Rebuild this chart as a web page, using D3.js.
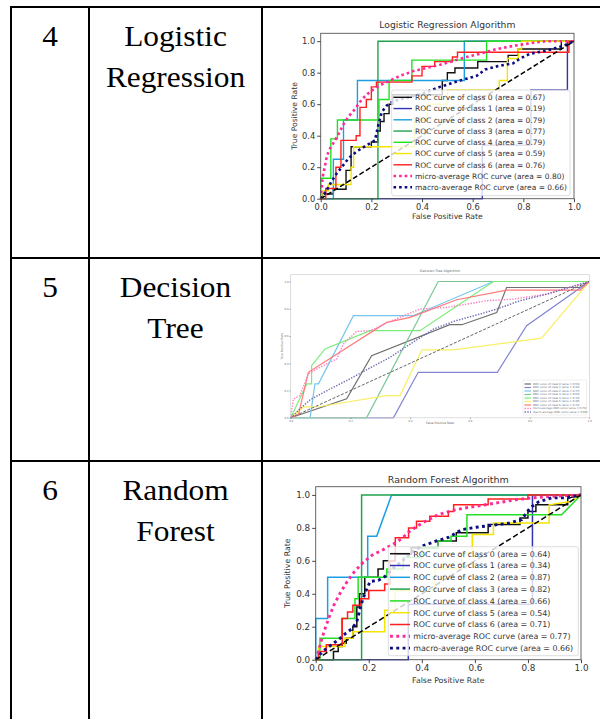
<!DOCTYPE html>
<html lang="en">
<head>
<meta charset="utf-8" />
<title>ROC curves by algorithm</title>
<script src="https://cdn.jsdelivr.net/npm/d3@7"></script>
<style>
  body { margin: 0; background: #fff; }
  svg { display: block; }
</style>
</head>
<body>
<svg id="page" width="600" height="719"></svg>
<script>
// ---- table text ----
const rowNumbers = ["4", "5", "6"];
const rowNames = [["Logistic", "Regression"], ["Decision", "Tree"], ["Random", "Forest"]];

// ---- chart text ----
const chartTitles = ["Logistic Regression Algorithm", "Decision Tree Algorithm", "Random Forest Algorithm"];
const legendLabels = [
  "ROC curve of class 0", "ROC curve of class 1", "ROC curve of class 2",
  "ROC curve of class 3", "ROC curve of class 4", "ROC curve of class 5",
  "ROC curve of class 6", "micro-average ROC curve", "macro-average ROC curve"
];
const xTicks = [0, 0.2, 0.4, 0.6, 0.8, 1.0];
const yTicks = [0, 0.2, 0.4, 0.6, 0.8, 1.0];
const curveColors = ["#111111", "#3232b4", "#1a9fe3", "#22a24e", "#22e022", "#f3e500", "#ff1f1f", "#ff2a98", "#0c0c80"];

// ---- areas ----
const lrAreas = [0.67, 0.19, 0.79, 0.77, 0.79, 0.59, 0.76, 0.80, 0.66];
const dtAreas = [0.59, 0.33, 0.77, 0.63, 0.74, 0.40, 0.73, 0.73, 0.60];
const rfAreas = [0.64, 0.34, 0.87, 0.82, 0.66, 0.54, 0.71, 0.77, 0.66];

// ---- logistic regression curves [fpr, tpr] ----
const lrClass0 = [[0,0],[0.01,0],[0.01,0.03],[0.05,0.03],[0.05,0.06],[0.1,0.06],[0.1,0.18],[0.12,0.18],[0.12,0.33],[0.2,0.33],[0.2,0.36],[0.225,0.36],[0.225,0.43],[0.235,0.43],[0.235,0.49],[0.25,0.49],[0.25,0.54],[0.27,0.54],[0.27,0.6],[0.285,0.6],[0.285,0.66],[0.48,0.66],[0.48,0.75],[0.5,0.75],[0.5,0.8],[0.53,0.8],[0.53,0.83],[0.62,0.83],[0.62,0.87],[0.74,0.87],[0.74,0.91],[0.78,0.91],[0.78,0.95],[0.95,0.95],[0.95,1],[1,1]];
const lrClass1 = [[0,0],[0.638,0],[0.638,0.34],[0.83,0.34],[0.83,0.69],[0.974,0.69],[0.974,1],[1,1]];
const lrClass2 = [[0,0],[0.05,0],[0.05,0.25],[0.09,0.25],[0.09,0.5],[0.145,0.5],[0.145,0.75],[0.567,0.75],[0.567,1],[1,1]];
const lrClass3 = [[0,0],[0.226,0],[0.226,1],[1,1]];
const lrClass4 = [[0,0],[0,0.13],[0.04,0.13],[0.04,0.38],[0.066,0.38],[0.066,0.5],[0.23,0.5],[0.23,0.63],[0.27,0.63],[0.27,0.75],[0.36,0.75],[0.36,0.88],[0.655,0.88],[0.655,1],[1,1]];
const lrClass5 = [[0,0],[0.01,0],[0.01,0.05],[0.03,0.05],[0.03,0.09],[0.12,0.09],[0.12,0.2],[0.13,0.2],[0.13,0.33],[0.37,0.33],[0.37,0.5],[0.42,0.5],[0.42,0.6],[0.5,0.6],[0.5,0.69],[0.705,0.69],[0.705,0.75],[0.737,0.75],[0.737,0.89],[0.78,0.89],[0.78,0.95],[0.793,0.95],[0.793,1],[1,1]];
const lrClass6 = [[0,0],[0.02,0],[0.02,0.065],[0.06,0.065],[0.06,0.2],[0.08,0.2],[0.08,0.37],[0.14,0.37],[0.14,0.4],[0.155,0.4],[0.155,0.58],[0.18,0.58],[0.18,0.63],[0.2,0.63],[0.2,0.71],[0.22,0.71],[0.22,0.74],[0.36,0.74],[0.36,0.78],[0.4,0.78],[0.4,0.84],[0.45,0.84],[0.45,0.87],[0.52,0.87],[0.52,0.9],[0.54,0.9],[0.54,0.93],[0.98,0.93],[0.98,1],[1,1]];
const lrMicro = [[0,0],[0.008,0.14],[0.017,0.21],[0.024,0.27],[0.037,0.32],[0.053,0.36],[0.07,0.41],[0.089,0.47],[0.109,0.52],[0.136,0.57],[0.162,0.63],[0.195,0.68],[0.234,0.72],[0.274,0.75],[0.313,0.78],[0.366,0.81],[0.418,0.83],[0.471,0.85],[0.524,0.875],[0.576,0.9],[0.629,0.92],[0.695,0.95],[0.76,0.97],[0.84,0.99],[0.89,1],[1,1]];
const lrMacro = [[0,0],[0.01,0.02],[0.024,0.055],[0.043,0.11],[0.063,0.16],[0.083,0.2],[0.109,0.255],[0.142,0.3],[0.182,0.34],[0.214,0.37],[0.228,0.47],[0.241,0.55],[0.26,0.59],[0.287,0.62],[0.339,0.64],[0.405,0.67],[0.471,0.71],[0.55,0.75],[0.616,0.78],[0.649,0.82],[0.695,0.84],[0.76,0.86],[0.787,0.89],[0.826,0.92],[0.892,0.94],[0.958,0.97],[1,1]];

// ---- decision tree curves ----
const dtClass0 = [[0,0],[0.1875,0.139],[0.271,0.456],[0.533,0.683],[0.573,0.683],[0.69,0.773],[0.723,0.956],[0.969,0.956],[1,1]];
const dtClass1 = [[0,0],[0.344,0],[0.427,0.334],[0.692,0.334],[0.79,0.676],[1,1]];
const dtClass2 = [[0,0],[0.065,0],[0.081,0.249],[0.093,0.249],[0.21,0.749],[0.41,0.749],[0.679,1],[1,1]];
const dtClass3 = [[0,0],[0.254,0],[0.494,1],[1,1]];
const dtClass4 = [[0,0],[0.054,0.249],[0.07,0.249],[0.07,0.383],[0.115,0.505],[0.266,0.639],[0.433,0.639],[0.679,1],[1,1]];
const dtClass5 = [[0,0],[0.042,0.078],[0.098,0.083],[0.321,0.163],[0.366,0.163],[0.439,0.498],[0.545,0.498],[0.84,0.585],[1,1]];
const dtClass6 = [[0,0],[0.026,0.024],[0.059,0.334],[0.321,0.7],[0.4,0.737],[0.556,0.866],[0.723,0.937],[0.969,0.937],[1,1]];
const dtMicro = [[0,0],[0.009,0.139],[0.031,0.163],[0.059,0.322],[0.098,0.371],[0.154,0.432],[0.176,0.541],[0.221,0.634],[0.266,0.639],[0.333,0.707],[0.433,0.798],[0.522,0.81],[0.589,0.834],[0.656,0.859],[0.746,0.871],[0.857,0.907],[1,1]];
const dtMacro = [[0,0],[0.031,0.066],[0.065,0.132],[0.132,0.212],[0.1875,0.273],[0.266,0.366],[0.333,0.444],[0.4,0.541],[0.478,0.651],[0.545,0.707],[0.634,0.761],[0.69,0.798],[0.768,0.859],[0.857,0.907],[1,1]];

// ---- random forest curves ----
const rfClass0 = [[0,0],[0.067,0],[0.067,0.05],[0.085,0.05],[0.085,0.08],[0.1,0.08],[0.1,0.1],[0.115,0.1],[0.115,0.13],[0.14,0.13],[0.14,0.2],[0.155,0.2],[0.155,0.32],[0.165,0.32],[0.165,0.4],[0.185,0.4],[0.185,0.5],[0.235,0.5],[0.235,0.55],[0.255,0.55],[0.255,0.6],[0.3,0.6],[0.3,0.64],[0.36,0.64],[0.36,0.68],[0.46,0.68],[0.46,0.72],[0.53,0.72],[0.53,0.77],[0.65,0.77],[0.65,0.82],[0.77,0.82],[0.77,0.86],[0.8,0.86],[0.8,0.9],[0.83,0.9],[0.83,0.94],[0.95,0.94],[0.95,0.98],[1,1]];
const rfClass1 = [[0,0],[0.349,0],[0.349,0.337],[0.817,0.337],[0.817,1],[1,1]];
const rfClass2 = [[0,0],[0,0.25],[0.045,0.25],[0.045,0.5],[0.196,0.5],[0.196,0.75],[0.23,0.75],[0.286,1],[1,1]];
const rfClass3 = [[0,0],[0.173,0],[0.173,1],[1,1]];
const rfClass4 = [[0,0],[0.016,0],[0.016,0.13],[0.098,0.13],[0.098,0.25],[0.148,0.25],[0.148,0.37],[0.16,0.37],[0.16,0.5],[0.268,0.5],[0.268,0.55],[0.33,0.55],[0.33,0.62],[0.4,0.62],[0.4,0.68],[0.46,0.68],[0.46,0.72],[0.51,0.72],[0.51,0.75],[0.57,0.75],[0.57,0.88],[0.927,0.88],[1,1]];
const rfClass5 = [[0,0],[0.01,0],[0.01,0.08],[0.11,0.08],[0.11,0.13],[0.14,0.13],[0.14,0.17],[0.26,0.17],[0.26,0.3],[0.3,0.3],[0.3,0.42],[0.45,0.42],[0.45,0.55],[0.55,0.55],[0.55,0.65],[0.59,0.65],[0.59,0.76],[0.67,0.76],[0.67,0.83],[0.88,0.83],[0.88,0.94],[0.96,0.96],[1,1]];
const rfClass6 = [[0,0],[0.01,0],[0.01,0.05],[0.04,0.05],[0.04,0.09],[0.1,0.09],[0.1,0.25],[0.12,0.25],[0.12,0.29],[0.14,0.29],[0.14,0.33],[0.17,0.33],[0.17,0.37],[0.2,0.37],[0.2,0.42],[0.26,0.42],[0.26,0.46],[0.28,0.46],[0.28,0.6],[0.3,0.6],[0.3,0.74],[0.35,0.74],[0.35,0.8],[0.38,0.8],[0.38,0.84],[0.43,0.84],[0.43,0.87],[0.5,0.87],[0.5,0.9],[0.52,0.9],[0.52,0.94],[0.65,0.94],[0.65,0.975],[0.8,0.975],[0.8,1],[1,1]];
const rfMicro = [[0,0],[0.01,0.049],[0.023,0.126],[0.035,0.187],[0.05,0.256],[0.069,0.333],[0.092,0.404],[0.117,0.47],[0.146,0.535],[0.176,0.586],[0.211,0.633],[0.249,0.663],[0.289,0.698],[0.324,0.734],[0.349,0.773],[0.381,0.809],[0.418,0.844],[0.462,0.88],[0.513,0.905],[0.563,0.921],[0.626,0.937],[0.688,0.953],[0.751,0.97],[0.814,0.982],[0.889,0.992],[1,1]];
const rfMacro = [[0,0],[0.013,0.028],[0.029,0.053],[0.048,0.077],[0.07,0.103],[0.092,0.13],[0.113,0.16],[0.136,0.187],[0.155,0.231],[0.171,0.333],[0.186,0.404],[0.205,0.475],[0.236,0.481],[0.261,0.505],[0.286,0.546],[0.324,0.596],[0.362,0.653],[0.399,0.688],[0.45,0.718],[0.5,0.742],[0.55,0.789],[0.6,0.803],[0.663,0.815],[0.726,0.828],[0.776,0.85],[0.808,0.921],[0.839,0.957],[0.889,0.982],[0.94,0.982],[1,1]];

const lrCurves = [lrClass0, lrClass1, lrClass2, lrClass3, lrClass4, lrClass5, lrClass6, lrMicro, lrMacro];
const dtCurves = [dtClass0, dtClass1, dtClass2, dtClass3, dtClass4, dtClass5, dtClass6, dtMicro, dtMacro];
const rfCurves = [rfClass0, rfClass1, rfClass2, rfClass3, rfClass4, rfClass5, rfClass6, rfMicro, rfMacro];

const FONT = "DejaVu Sans, sans-serif";
const svg = d3.select("#page");

// ---- table grid ----
const colX = [11, 89, 262];
const rowY = [7, 258, 461];
svg.selectAll(".vline").data(colX).enter().append("line")
  .attr("x1", d => d).attr("x2", d => d)
  .attr("y1", rowY[0] - 1).attr("y2", 725)
  .attr("stroke", "#000").attr("stroke-width", 2);
svg.selectAll(".hline").data(rowY).enter().append("line")
  .attr("x1", colX[0] - 1).attr("x2", 605)
  .attr("y1", d => d).attr("y2", d => d)
  .attr("stroke", "#000").attr("stroke-width", 2);

rowNumbers.forEach((n, i) => {
  const base = rowY[i] + 39;
  svg.append("text")
    .attr("transform", `translate(${(colX[0] + colX[1]) / 2},${base}) scale(1.1,1)`)
    .attr("text-anchor", "middle")
    .attr("font-family", "Liberation Serif, Times New Roman, serif")
    .attr("font-size", 28.5)
    .text(n);
  rowNames[i].forEach((w, j) => {
    svg.append("text")
      .attr("transform", `translate(${(colX[1] + colX[2]) / 2},${base + j * 41}) scale(1.1,1)`)
      .attr("text-anchor", "middle")
      .attr("font-family", "Liberation Serif, Times New Roman, serif")
      .attr("font-size", 28.5)
      .text(w);
  });
});

// ---- ROC chart ----
function drawRoc(cfg) {
  const g = svg.append("g");
  const x = d3.scaleLinear().domain([0, 1]).range([cfg.left, cfg.right]);
  const y = d3.scaleLinear().domain([0, 1.05]).range([cfg.bottom, cfg.top]);
  const line = d3.line().x(d => x(d[0])).y(d => y(d[1]));

  const style = i => i < 7
    ? { w: cfg.lw, dash: null }
    : { w: cfg.dotW, dash: cfg.dotDash };

  const clipId = "clip-" + cfg.id;
  g.append("clipPath").attr("id", clipId).append("rect")
    .attr("x", cfg.left - 1).attr("y", cfg.top)
    .attr("width", cfg.right - cfg.left + 1).attr("height", cfg.bottom - cfg.top + 1);

  const plot = g.append("g").attr("clip-path", `url(#${clipId})`).attr("opacity", cfg.opacity);
  cfg.curves.forEach((pts, i) => {
    const s = style(i);
    plot.append("path").datum(pts)
      .attr("d", line)
      .attr("fill", "none")
      .attr("stroke", curveColors[i])
      .attr("stroke-width", s.w)
      .attr("stroke-dasharray", s.dash);
  });
  plot.append("path").datum([[0, 0], [1, 1]])
    .attr("d", line)
    .attr("fill", "none")
    .attr("stroke", "#000")
    .attr("stroke-width", cfg.diagW)
    .attr("stroke-dasharray", cfg.diagDash);

  g.append("rect")
    .attr("x", cfg.left).attr("y", cfg.top)
    .attr("width", cfg.right - cfg.left).attr("height", cfg.bottom - cfg.top)
    .attr("fill", "none").attr("stroke", cfg.frame).attr("stroke-width", cfg.frameW);

  const fmt = d3.format(".1f");
  g.append("g")
    .attr("transform", `translate(0,${cfg.bottom})`)
    .call(d3.axisBottom(x).tickValues(xTicks).tickFormat(fmt).tickSize(cfg.tickLen).tickPadding(cfg.tickPad))
    .call(a => a.select(".domain").remove())
    .attr("font-size", cfg.tickFont).attr("font-family", FONT).attr("color", cfg.textColor)
    .selectAll("line").attr("stroke-width", cfg.frameW);
  g.append("g")
    .attr("transform", `translate(${cfg.left},0)`)
    .call(d3.axisLeft(y).tickValues(yTicks).tickFormat(fmt).tickSize(cfg.tickLen).tickPadding(cfg.tickPad))
    .call(a => a.select(".domain").remove())
    .attr("font-size", cfg.tickFont).attr("font-family", FONT).attr("color", cfg.textColor)
    .selectAll("line").attr("stroke-width", cfg.frameW);

  g.append("text")
    .attr("x", (cfg.left + cfg.right) / 2).attr("y", cfg.titleY)
    .attr("text-anchor", "middle").attr("font-family", FONT)
    .attr("font-size", cfg.titleFont).attr("fill", cfg.textColor)
    .text(cfg.title);
  g.append("text")
    .attr("x", (cfg.left + cfg.right) / 2).attr("y", cfg.xLabelY)
    .attr("text-anchor", "middle").attr("font-family", FONT)
    .attr("font-size", cfg.labelFont).attr("fill", cfg.textColor)
    .text("False Positive Rate");
  g.append("text")
    .attr("transform", `translate(${cfg.yLabelX},${(cfg.top + cfg.bottom) / 2}) rotate(-90)`)
    .attr("text-anchor", "middle").attr("font-family", FONT)
    .attr("font-size", cfg.labelFont).attr("fill", cfg.textColor)
    .text("True Positive Rate");

  // legend
  const L = cfg.legend;
  const lg = g.append("g");
  lg.append("rect")
    .attr("x", L.x).attr("y", L.y).attr("width", L.w).attr("height", L.h)
    .attr("rx", L.r).attr("fill", "#fff").attr("fill-opacity", 0.8)
    .attr("stroke", "#d4d4d4").attr("stroke-width", L.sw);
  legendLabels.forEach((lab, i) => {
    const yy = L.firstY + i * L.rowH;
    const s = style(i);
    lg.append("line")
      .attr("x1", L.x0).attr("x2", L.x1).attr("y1", yy).attr("y2", yy)
      .attr("stroke", curveColors[i]).attr("stroke-width", s.w)
      .attr("stroke-dasharray", s.dash).attr("opacity", cfg.opacity);
    lg.append("text")
      .attr("x", L.textX).attr("y", yy).attr("dy", "0.36em")
      .attr("font-family", FONT).attr("font-size", L.font).attr("fill", cfg.textColor)
      .text(`${lab} (area = ${cfg.areas[i].toFixed(2)})`);
  });
}

drawRoc({
  id: "lr", curves: lrCurves, areas: lrAreas, title: chartTitles[0],
  left: 320.7, right: 574, top: 33.3, bottom: 198.7,
  lw: 1.4, dotW: 2.6, dotDash: "2.6,3", diagW: 1.5, diagDash: "5,2.6", opacity: 1,
  frame: "#555", frameW: 0.9, textColor: "#333",
  tickLen: 3.5, tickPad: 2, tickFont: 8.3,
  titleY: 28, titleFont: 9.2, xLabelY: 219, labelFont: 7.6, yLabelX: 297,
  legend: { x: 391.7, y: 90, w: 178.3, h: 105.7, r: 2, sw: 0.8, firstY: 97.3, rowH: 11.25, x0: 393.5, x1: 412, textX: 415, font: 7.5 }
});

drawRoc({
  id: "dt", curves: dtCurves, areas: dtAreas, title: chartTitles[1],
  left: 290.7, right: 589.3, top: 274.7, bottom: 417.8,
  lw: 1.2, dotW: 1.4, dotDash: "1.4,1.4", diagW: 1, diagDash: "3,1.6", opacity: 0.6,
  frame: "#c8c8c8", frameW: 0.6, textColor: "#666",
  tickLen: 1.2, tickPad: 0.8, tickFont: 2.6,
  titleY: 272.3, titleFont: 3.4, xLabelY: 424, labelFont: 3, yLabelX: 282.5,
  legend: { x: 523, y: 380, w: 63.5, h: 35, r: 0.8, sw: 0.4, firstY: 384, rowH: 3.5, x0: 524.5, x1: 531, textX: 533, font: 2.7 }
});

drawRoc({
  id: "rf", curves: rfCurves, areas: rfAreas, title: chartTitles[2],
  left: 315.7, right: 581, top: 486.7, bottom: 659.7,
  lw: 1.5, dotW: 2.9, dotDash: "2.9,3.4", diagW: 1.5, diagDash: "5.5,2.8", opacity: 1,
  frame: "#555", frameW: 0.9, textColor: "#333",
  tickLen: 3.5, tickPad: 2, tickFont: 8.8,
  titleY: 483, titleFont: 9.5, xLabelY: 683, labelFont: 7.8, yLabelX: 290,
  legend: { x: 388.3, y: 546.7, w: 190, h: 109, r: 2, sw: 0.8, firstY: 553.7, rowH: 11.8, x0: 390, x1: 410, textX: 413.3, font: 7.9 }
});
</script>
</body>
</html>
